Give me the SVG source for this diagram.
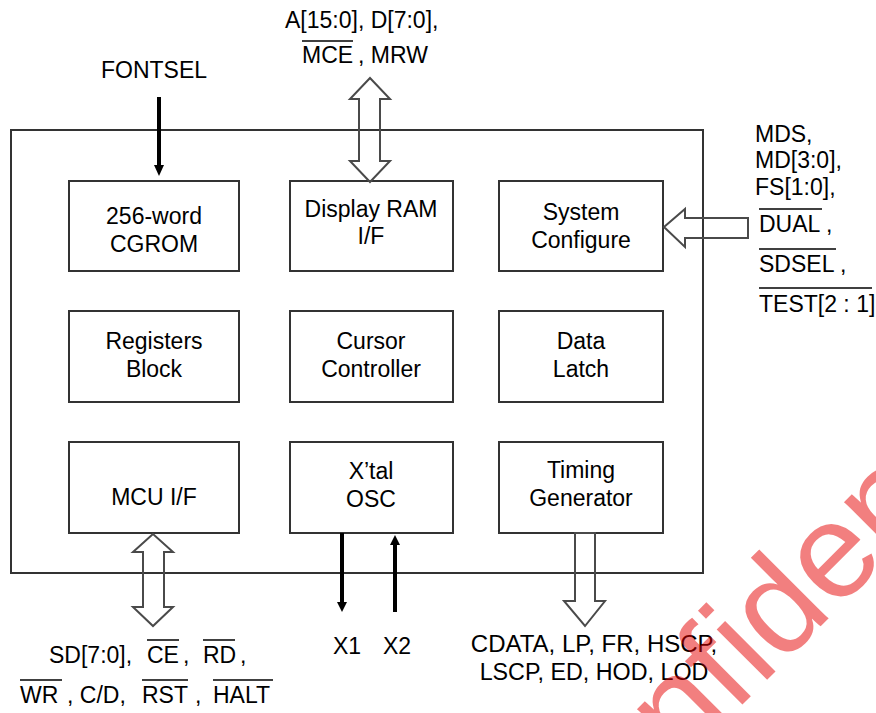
<svg xmlns="http://www.w3.org/2000/svg" width="876" height="713" viewBox="0 0 876 713">
<style>
text{font-family:"Liberation Sans",Arial,sans-serif;font-size:23px;fill:#000}
.box{fill:none;stroke:#333;stroke-width:2}
.hollow{fill:none;stroke:#4a4a4a;stroke-width:2;stroke-linejoin:miter}
.thick{stroke:#000;stroke-width:4;fill:none}
.ov{stroke:#000;stroke-width:1.5}
.c{text-anchor:middle}
</style>
<rect width="876" height="713" fill="#fff"/>
<g id="chip"><rect class="box" x="11" y="130" width="692" height="443"/></g>
<g id="cgrom"><rect class="box" x="69" y="181" width="170" height="90"/><text class="c" x="154" y="224">256-word</text><text class="c" x="154" y="252">CGROM</text></g>
<g id="dramif"><rect class="box" x="290" y="181" width="163" height="90"/><text class="c" x="371" y="217">Display RAM</text><text class="c" x="371" y="244">I/F</text></g>
<g id="syscfg"><rect class="box" x="499" y="181" width="164" height="90"/><text class="c" x="581" y="220">System</text><text class="c" x="581" y="248">Configure</text></g>
<g id="regs"><rect class="box" x="69" y="311" width="170" height="91"/><text class="c" x="154" y="349">Registers</text><text class="c" x="154" y="377">Block</text></g>
<g id="cursor"><rect class="box" x="290" y="311" width="163" height="91"/><text class="c" x="371" y="349">Cursor</text><text class="c" x="371" y="377">Controller</text></g>
<g id="latch"><rect class="box" x="499" y="311" width="164" height="91"/><text class="c" x="581" y="349">Data</text><text class="c" x="581" y="377">Latch</text></g>
<g id="mcuif"><rect class="box" x="69" y="442" width="170" height="91"/><text class="c" x="154" y="505">MCU I/F</text></g>
<g id="xtal"><rect class="box" x="290" y="442" width="163" height="91"/><text class="c" x="371" y="479">X’tal</text><text class="c" x="371" y="507">OSC</text></g>
<g id="timing"><rect class="box" x="499" y="442" width="164" height="91"/><text class="c" x="581" y="478">Timing</text><text class="c" x="581" y="506">Generator</text></g>
<g id="connectors">
<polygon class="hollow" points="370,78 350,99 359,99 359,161 350,161 370,182 390,161 380,161 380,99 390,99"/>
<polygon class="hollow" points="153,534 133,552 143,552 143,607 133,607 153,626 173,607 164,607 164,552 173,552"/>
<polygon class="hollow" points="664,227 685,209 685,218 748,218 748,238 685,238 685,247"/>
<polygon class="hollow" points="575,533 575,601 564,601 585,626 605,601 595,601 595,533"/>
<line class="thick" x1="159" y1="97" x2="159" y2="167"/>
<polygon points="154,165 164,165 159,176" fill="#000"/>
<line class="thick" x1="342" y1="533" x2="342" y2="604"/>
<polygon points="337,602 347,602 342,612" fill="#000"/>
<line class="thick" x1="395" y1="612" x2="395" y2="543"/>
<polygon points="390,545 400,545 395,535" fill="#000"/>
</g>
<g id="labels">
<text class="c" x="154" y="78">FONTSEL</text>
<text x="285" y="28">A[15:0], D[7:0],</text>
<text x="302" y="63">MCE</text><text x="358" y="63">, MRW</text>
<line class="ov" x1="302" y1="41" x2="353" y2="41"/>
<text x="755" y="142">MDS,</text>
<text x="755" y="168">MD[3:0],</text>
<text x="755" y="195">FS[1:0],</text>
<text x="759" y="232">DUAL ,</text>
<line class="ov" x1="759" y1="209" x2="822" y2="209"/>
<text x="759" y="272">SDSEL ,</text>
<line class="ov" x1="759" y1="249" x2="836" y2="249"/>
<text x="759" y="312">TEST[2 : 1]</text>
<line class="ov" x1="759" y1="288" x2="872" y2="288"/>
<text x="49" y="663">SD[7:0],</text><text x="147" y="663">CE</text><text x="183" y="663">,</text><text x="203" y="663">RD</text><text x="240" y="663">,</text>
<line class="ov" x1="147" y1="640" x2="179" y2="640"/>
<line class="ov" x1="203" y1="640" x2="235" y2="640"/>
<text x="20" y="703">WR</text><text x="67" y="703">, C/D,</text><text x="142" y="703">RST</text><text x="195" y="703">,</text><text x="213" y="703">HALT</text>
<line class="ov" x1="20" y1="680" x2="62" y2="680"/>
<line class="ov" x1="142" y1="680" x2="188" y2="680"/>
<line class="ov" x1="213" y1="680" x2="273" y2="680"/>
<text x="333" y="654">X1</text>
<text x="383" y="654">X2</text>
<text class="c" x="594" y="652" style="font-size:24px">CDATA, LP, FR, HSCP,</text>
<text class="c" x="594" y="680" style="font-size:23.3px">LSCP, ED, HOD, LOD</text>
</g>
<text transform="translate(559,888) rotate(-45)" x="0" y="0" style="font-size:135px;fill:#e60000;fill-opacity:0.5">Confidential</text>
</svg>
